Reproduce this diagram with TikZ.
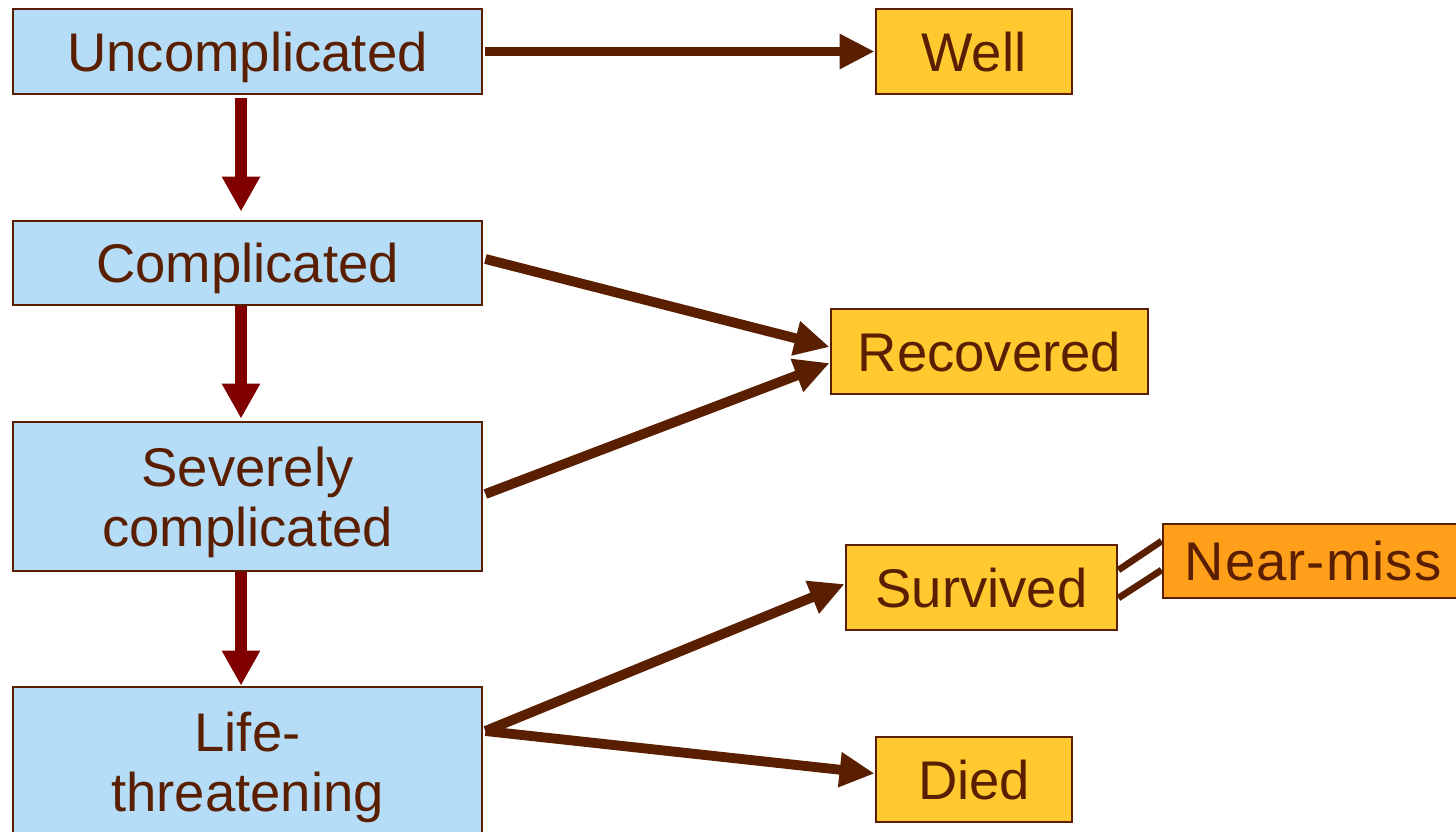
\documentclass[tikz,border=0pt]{standalone}
\usepackage{fontspec}
\setmainfont{Liberation Sans}
\usetikzlibrary{arrows.meta}

\definecolor{stageblue}{HTML}{B6DDF8}
\definecolor{outyellow}{HTML}{FFC92F}
\definecolor{missorange}{HTML}{FF9F1A}
\definecolor{textbrown}{HTML}{5A1F00}
\definecolor{arrowred}{HTML}{800000}

\tikzset{
	stage/.style={draw=textbrown, line width=0.8pt, fill=stageblue, text=textbrown, align=center, inner sep=0pt, text depth=0pt, font=\fontsize{15.5}{17.2}\selectfont},
	outcome/.style={stage, fill=outyellow, minimum height=0.85cm},
	down/.style={arrowred, line width=3.4pt, -{Triangle[length=0.35cm, width=0.36cm]}},
	result/.style={textbrown, line width=2.8pt, -{Triangle[length=0.35cm, width=0.33cm]}}
}

\begin{document}
\begin{tikzpicture}
	\useasboundingbox (0,0) rectangle (14.56,-8.31);
	%stages
	\node[stage, minimum width=4.69cm, minimum height=0.85cm] (unc) at (2.475,-0.515) {Uncomplicated};
	\node[stage, minimum width=4.69cm, minimum height=0.84cm] (cmp) at (2.475,-2.63) {Complicated};
	\node[stage, minimum width=4.69cm, minimum height=1.49cm] (sev) at (2.475,-4.965) {Severely\\complicated};
	\node[stage, minimum width=4.69cm, minimum height=1.49cm] (life) at (2.475,-7.615) {Life-\\threatening};
	%outcomes
	\node[outcome, minimum width=1.96cm] (well) at (9.74,-0.515) {Well};
	\node[outcome, minimum width=3.17cm] (rec) at (9.895,-3.515) {Recovered};
	\node[outcome, minimum width=2.71cm] (surv) at (9.815,-5.875) {Survived};
	\node[outcome, minimum width=1.96cm] (died) at (9.74,-7.795) {Died};
	\node[outcome, fill=missorange, minimum width=3.1cm, minimum height=0.74cm] (miss) at (13.18,-5.61) {N\kern0.3pt e\kern0.3pt a\kern0.3pt r\kern0.3pt -\kern0.3pt m\kern0.3pt i\kern0.3pt s\kern0.3pt s\hspace{0.1cm}};

	%getting worse
	\draw[down] ([xshift=-0.065cm, yshift=-0.03cm]unc.south) -- ([xshift=-0.065cm, yshift=0.08cm]cmp.north);
	\draw[down] ([xshift=-0.065cm]cmp.south) -- ([xshift=-0.065cm, yshift=0.02cm]sev.north);
	\draw[down] ([xshift=-0.065cm]sev.south) -- ([xshift=-0.065cm]life.north);

	%what happened
	\coordinate (lifeout) at ([xshift=0.02cm, yshift=0.305cm]life.east);
	\draw[result] ([xshift=0.02cm]unc.east) -- (well.west);
	\draw[result] ([xshift=0.02cm, yshift=0.04cm]cmp.east) -- ([yshift=0.045cm]rec.west);
	\draw[result] ([xshift=0.02cm, yshift=0.025cm]sev.east) -- ([yshift=-0.115cm]rec.west);
	\draw[result] (lifeout) -- ([yshift=0.035cm]surv.west);
	\draw[result] (lifeout) -- ([yshift=0.06cm]died.west);

	%near-miss link
	\draw[textbrown, line width=1.9pt] ([yshift=0.175cm]surv.east) -- ([yshift=0.2cm]miss.west);
	\draw[textbrown, line width=1.9pt] ([yshift=-0.105cm]surv.east) -- ([yshift=-0.09cm]miss.west);
\end{tikzpicture}
\end{document}
